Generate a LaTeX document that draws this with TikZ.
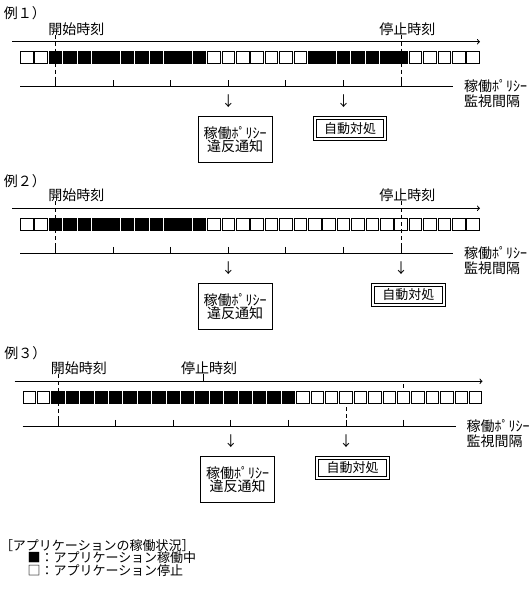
\documentclass[tikz,border=0pt]{standalone}
\usepackage{fontspec}
\setmainfont{Noto Sans CJK JP}
\usetikzlibrary{arrows}

\tikzset{
	jtext/.style={inner sep=0pt,outer sep=0pt,font=\fontsize{14pt}{14pt}\selectfont},
	legtext/.style={jtext,anchor=base west,font=\fontsize{13pt}{13pt}\selectfont},
	slot/.style={draw,minimum size=12.5pt,inner sep=0pt,outer sep=0pt},
	runslot/.style={slot,fill=black},
	guide/.style={dash pattern=on 4pt off 3pt},
	warnbox/.style={draw,inner sep=0pt,align=center,minimum width=74pt,minimum height=46pt,
		font=\fontsize{14pt}{13pt}\selectfont},
	fixbox/.style={draw,double,double distance=2pt,inner sep=0pt,minimum width=70.4pt,
		minimum height=20.3pt,font=\fontsize{13pt}{13pt}\selectfont},
	ivlabel/.style={jtext,align=left,anchor=west,font=\fontsize{14pt}{15pt}\selectfont}
}

\begin{document}
\begin{tikzpicture}[x=1pt,y=-1pt,line width=1pt]
	\useasboundingbox (0,0) rectangle (532,589);

	% example 1
	\begin{scope}[shift={(0,41.7)}]
	\node[jtext,anchor=base west] (ex1) at (4,-23) {例１）};
	\node[jtext,anchor=base west] (start1) at (48.3,-7.5) {開始時刻};
	\node[jtext,anchor=base west] (stop1) at (379.3,-7.5) {停止時刻};
	\draw[->] (12,0) -- (480,0);
	\foreach \i in {0,...,31}
		\node[slot] (s1-\i) at (26.75+14.4*\i,16) {};
	\foreach \i in {2,...,12}
		\node[runslot] at (s1-\i) {};
	\foreach \i in {20,...,26}
		\node[runslot] at (s1-\i) {};
	\draw (20,45) -- (453,45);
	\foreach \k in {0,...,6}
		\draw (55.55+57.6*\k,38.5) -- ++(0,6.5);
	\draw[guide] (55.55,-7) -- (55.55,45);
	\draw[guide] (401.15,-7) -- (401.15,45);
	\node[ivlabel] (ivl1) at (464,52.3) {稼働ﾎﾟﾘｼｰ\\監視間隔};
	\node[jtext,anchor=base] (dn1a) at (228.35,65) {↓};
	\node[jtext,anchor=base] (dn1b) at (343.55,65) {↓};
	\node[warnbox] (warn1) at (235,98) {稼働ﾎﾟﾘｼｰ\\違反通知};
	\node[fixbox] (fix1) at (350,86.65) {自動対処};
	\end{scope}

	% example 2
	\begin{scope}[shift={(0,208.3)}]
	\node[jtext,anchor=base west] (ex2) at (4,-22) {例２）};
	\node[jtext,anchor=base west] (start2) at (48.3,-7.5) {開始時刻};
	\node[jtext,anchor=base west] (stop2) at (379.3,-7.5) {停止時刻};
	\draw[->] (12,0) -- (480,0);
	\foreach \i in {0,...,31}
		\node[slot] (s2-\i) at (26.75+14.4*\i,16) {};
	\foreach \i in {2,...,12}
		\node[runslot] at (s2-\i) {};
	\draw (20,45) -- (453,45);
	\foreach \k in {0,...,6}
		\draw (55.55+57.6*\k,38.5) -- ++(0,6.5);
	\draw[guide] (55.55,-7) -- (55.55,45);
	\draw[guide] (401.15,-7) -- (401.15,45);
	\node[ivlabel] (ivl2) at (464,52.3) {稼働ﾎﾟﾘｼｰ\\監視間隔};
	\node[jtext,anchor=base] (dn2a) at (228.35,65) {↓};
	\node[jtext,anchor=base] (dn2b) at (401.15,65) {↓};
	\node[warnbox] (warn2) at (235,98) {稼働ﾎﾟﾘｼｰ\\違反通知};
	\node[fixbox] (fix2) at (408.35,86.65) {自動対処};
	\end{scope}

	% example 3
	\begin{scope}[shift={(2.5,381.3)}]
	\node[jtext,anchor=base west] (ex3) at (2,-23) {例３）};
	\node[jtext,anchor=base west] (start3) at (48.3,-7.5) {開始時刻};
	\node[jtext,anchor=base west] (stop3) at (178.5,-7.5) {停止時刻};
	\draw[->] (12,0) -- (480,0);
	\foreach \i in {0,...,31}
		\node[slot] (s3-\i) at (26.75+14.4*\i,16) {};
	\foreach \i in {2,...,18}
		\node[runslot] at (s3-\i) {};
	\draw (20,45) -- (453,45);
	\foreach \k in {0,...,6}
		\draw (55.55+57.6*\k,38.5) -- ++(0,6.5);
	\draw[guide] (55.55,-7) -- (55.55,45);
	\draw (200.5,-7) -- (200.5,0);
	\draw (401.15,3) -- (401.15,7);
	\draw[guide] (343.55,26) -- (343.55,45);
	\node[ivlabel] (ivl3) at (464,52.3) {稼働ﾎﾟﾘｼｰ\\監視間隔};
	\node[jtext,anchor=base] (dn3a) at (228.35,65) {↓};
	\node[jtext,anchor=base] (dn3b) at (343.55,65) {↓};
	\node[warnbox] (warn3) at (235,98) {稼働ﾎﾟﾘｼｰ\\違反通知};
	\node[fixbox] (fix3) at (350,86.65) {自動対処};
	\end{scope}

	% legend
	\node[legtext] (legtitle) at (0,550) {［アプリケーションの稼働状況］};
	\node[legtext] (legon) at (27.5,562.5) {■：アプリケーション稼働中};
	\node[legtext] (legoff) at (27.5,575) {□：アプリケーション停止};
\end{tikzpicture}
\end{document}
